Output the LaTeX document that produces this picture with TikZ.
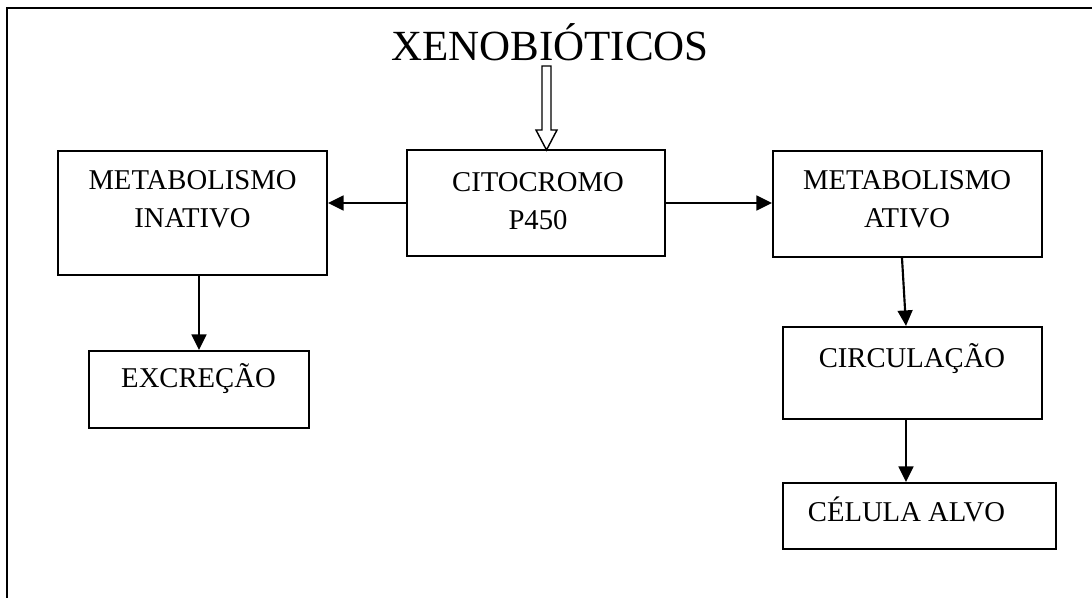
\documentclass[tikz,border=0pt]{standalone}
\usepackage{fontspec}
\setmainfont{Liberation Serif}
\usetikzlibrary{arrows.meta,calc}

\newlength\pxu
\setlength\pxu{0.4185pt}

\tikzset{
  caixa/.style={rectangle, draw=black, line width=0.9pt, inner sep=0pt},
  rotulo/.style={inner sep=0pt, align=center, font=\fontsize{12pt}{15.5pt}\selectfont},
  seta/.style={-{Triangle[length=6.5pt,width=6.2pt]}, line width=0.9pt}
}

\begin{document}
\begin{tikzpicture}[x=0.4185pt, y=-0.4185pt]
\useasboundingbox (0,0) rectangle (1092,598);
% moldura
\coordinate(frameTop) at (1092,8);
\coordinate(frameCorner) at (7,8);
\coordinate(frameBottom) at (7,598);
\draw[line width=1pt] (frameTop) -- (frameCorner) -- (frameBottom);

\node[inner sep=0pt, anchor=base, font=\fontsize{18pt}{21pt}\selectfont](xenoLabel) at (550,60){XENOBIÓTICOS};

\node[caixa, minimum width=258\pxu, minimum height=106\pxu](citoBox) at (536,203){};
	\node[rotulo, anchor=north](citoLabel) at (538,172.5){CITOCROMO\\P450};
\node[caixa, minimum width=269\pxu, minimum height=124\pxu](inativoBox) at (192.5,213){};
	\node[rotulo, anchor=north](inativoLabel) at (192.5,170.5){METABOLISMO\\INATIVO};
\node[caixa, minimum width=269\pxu, minimum height=106\pxu](ativoBox) at (907.5,204){};
	\node[rotulo, anchor=north](ativoLabel) at (907,170.5){METABOLISMO\\ATIVO};
\node[caixa, minimum width=220\pxu, minimum height=77\pxu](excrecaoBox) at (199,389.5){};
	\node[rotulo, anchor=base](excrecaoLabel) at (198.5,387.5){EXCREÇÃO};
\node[caixa, minimum width=259\pxu, minimum height=92\pxu](circBox) at (912.5,373){};
	\node[rotulo, anchor=base](circLabel) at (912,367.5){CIRCULAÇÃO};
\node[caixa, minimum width=273\pxu, minimum height=66\pxu](celulaBox) at (919.5,516){};
	\node[rotulo, anchor=base](celulaLabel) at (906.5,521.5){CÉLULA ALVO};

% seta vazada
\coordinate(entrada) at (546.5,150);
\draw[line width=0.6pt] (entrada) -- ++(-10.5,-20) -- ++(6,0) -- ++(0,-64) -- ++(9,0) -- ++(0,64) -- ++(6,0) -- cycle;

\draw[seta] (citoBox.west) -- (citoBox.west -| inativoBox.east);
\draw[seta] (citoBox.east) -- (citoBox.east -| ativoBox.west);
\draw[seta] (excrecaoBox.north |- inativoBox.south) -- (excrecaoBox.north);
\draw[seta] ([xshift=-5.5\pxu]ativoBox.south) -- ([xshift=-6.5\pxu]circBox.north);
\draw[seta] ([xshift=-6.5\pxu]circBox.south) -- ([xshift=-13.5\pxu]celulaBox.north);
\end{tikzpicture}
\end{document}
